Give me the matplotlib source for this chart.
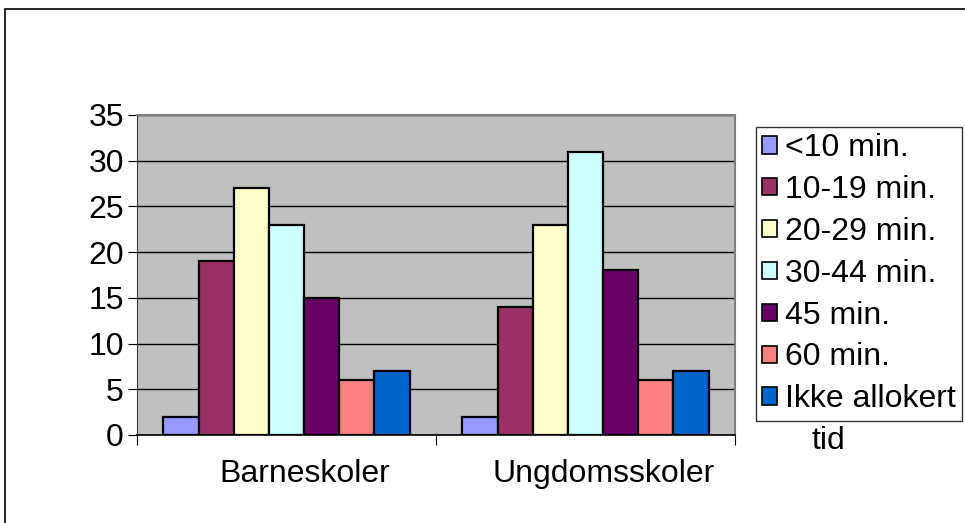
import matplotlib.pyplot as plt
from matplotlib.patches import Rectangle
from matplotlib.transforms import ScaledTranslation
import numpy as np

plt.rcParams['font.family'] = ['Liberation Sans', 'DejaVu Sans']

# data
categories = ['Barneskoler', 'Ungdomsskoler']
series = ['<10 min.', '10-19 min.', '20-29 min.', '30-44 min.', '45 min.', '60 min.', 'Ikke allokert']
values = [
    [2, 2],
    [19, 14],
    [27, 23],
    [23, 31],
    [15, 18],
    [6, 6],
    [7, 7],
]
colors = ['#9999FF', '#993366', '#FFFFCC', '#CCFFFF', '#660066', '#FF8080', '#0066CC']

W, H = 965, 523
fs = 23
fig = plt.figure(figsize=(W / 100, H / 100), dpi=100)

# outer chart border (right/bottom fall outside the image)
fig.patches.append(Rectangle((5 / W, -0.2), 1.2, 1 - 9 / H + 0.2, transform=fig.transFigure,
                             fill=False, edgecolor='black', linewidth=1.2))

ax = fig.add_axes([137 / W, 1 - 435 / H, (735 - 137) / W, (435 - 115) / H])
ax.set_facecolor('#C0C0C0')

x = np.arange(len(categories))
w = 1 / 8.5
for i, (name, vals) in enumerate(zip(series, values)):
    ax.bar(x + (i - 3) * w, vals, width=w, color=colors[i], edgecolor='black',
           linewidth=1.6, label=name, zorder=3)

ax.set_xlim(-0.5, 1.5)
ax.set_ylim(0, 35)
ax.set_yticks(range(0, 36, 5))
ax.yaxis.grid(True, color='black', linewidth=1)
ax.set_axisbelow(True)

ax.set_xticks([-0.5, 0.5, 1.5])
ax.set_xticklabels([])
ax.set_xticks(x, minor=True)
ax.set_xticklabels(categories, minor=True)
ax.tick_params(axis='x', which='minor', length=0, pad=17, labelsize=fs)
ax.tick_params(axis='x', which='major', length=7, direction='out', color='black')
ax.tick_params(axis='y', length=6.5, direction='out', labelsize=fs, pad=3)
shift = ScaledTranslation(18 / 100, 0, fig.dpi_scale_trans)
for lab in ax.get_xticklabels(minor=True):
    lab.set_transform(lab.get_transform() + shift)

for side in ['top', 'right']:
    ax.spines[side].set_color('#808080')
    ax.spines[side].set_linewidth(1.5)
ax.spines['left'].set_color('#404040')
ax.spines['bottom'].set_color('black')
ax.spines['bottom'].set_linewidth(1.2)

leg = fig.legend(loc='upper left', bbox_to_anchor=(756 / W, 1 - 127 / H), borderaxespad=0,
                 fontsize=fs, frameon=True, fancybox=False, edgecolor='black',
                 handlelength=0.45, handleheight=0.45, handletextpad=0.25,
                 labelspacing=0.37, borderpad=0.2)
leg.get_frame().set_linewidth(1)
for h in leg.legend_handles:
    h.set_linewidth(1.2)

fig.text(812 / W, 1 - 441 / H, 'tid', fontsize=fs, va='center', ha='left')

fig.savefig('out.png', dpi=100)
